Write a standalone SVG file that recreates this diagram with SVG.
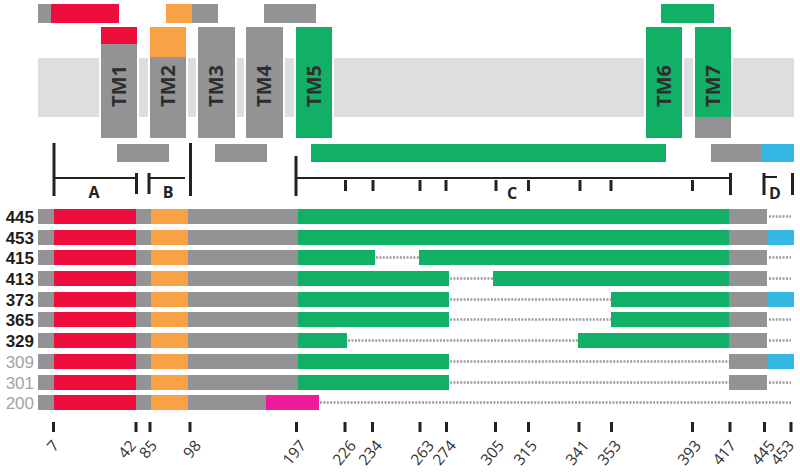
<svg xmlns="http://www.w3.org/2000/svg" width="800" height="473" viewBox="0 0 800 473">
<style>
.g{fill:#939396}.r{fill:#ef0d3d}.o{fill:#f9a245}.gr{fill:#12b067}.b{fill:#35b7e4}.m{fill:#ee1a9c}
.band{fill:#dddee0}
.tm{stroke:#fff;stroke-width:2}
.tml{font-family:"Open Sans","Liberation Sans",sans-serif;font-weight:bold;font-size:20px;fill:#2e2e2e;text-anchor:middle}
.dot{stroke:#9c9c9c;stroke-width:2.5;stroke-dasharray:2 1.4;fill:none}
.rl{font-family:"Liberation Sans",Arial,sans-serif;font-size:17px;text-anchor:end}
.dk{fill:#1e1e1e;font-weight:bold}.lt{fill:#a3a3a3}
.ln{stroke:#222;fill:none;stroke-width:2}
.tk{stroke:#222;fill:none;stroke-width:3}
.bl{font-family:"Open Sans","Liberation Sans",sans-serif;font-weight:bold;font-size:16px;fill:#222;text-anchor:middle}
.al{font-family:"Open Sans","Liberation Sans",sans-serif;font-size:15.5px;fill:#333;text-anchor:end}
</style>
<rect width="800" height="473" fill="#fff"/>
<g id="membrane"><rect class="band" x="38" y="58" width="756" height="59"/></g>
<g id="loops-top">
<rect class="g" x="38" y="4" width="14" height="19"/><rect class="r" x="51" y="4" width="68" height="19"/>
<rect class="o" x="166" y="4" width="26" height="19"/><rect class="g" x="192" y="4" width="26" height="19"/>
<rect class="g" x="264" y="4" width="52" height="19"/>
<rect class="gr" x="661" y="4" width="53" height="19"/>
</g>
<g id="loops-bottom">
<rect class="g" x="117" y="144" width="52" height="18"/>
<rect class="g" x="215" y="144" width="52" height="18"/>
<rect class="gr" x="311" y="144" width="355" height="18"/>
<rect class="g" x="711" y="144" width="52" height="18"/><rect class="b" x="762" y="144" width="32" height="18"/>
</g>
<g id="tm1"><rect class="g tm" x="100" y="26" width="38" height="113"/><rect class="r" x="101" y="27" width="36" height="17"/><text class="tml" transform="translate(126,86) rotate(-90)">TM1</text></g>
<g id="tm2"><rect class="g tm" x="149" y="26" width="38" height="113"/><rect class="o" x="150" y="27" width="36" height="30"/><text class="tml" transform="translate(175,86) rotate(-90)">TM2</text></g>
<g id="tm3"><rect class="g tm" x="197" y="26" width="39" height="113"/><text class="tml" transform="translate(223,86) rotate(-90)">TM3</text></g>
<g id="tm4"><rect class="g tm" x="245" y="26" width="39" height="113"/><text class="tml" transform="translate(271,86) rotate(-90)">TM4</text></g>
<g id="tm5"><rect class="gr tm" x="295" y="26" width="38" height="113"/><text class="tml" transform="translate(321,86) rotate(-90)">TM5</text></g>
<g id="tm6"><rect class="gr tm" x="645" y="26" width="38" height="113"/><text class="tml" transform="translate(671,86) rotate(-90)">TM6</text></g>
<g id="tm7"><rect class="gr tm" x="694" y="26" width="38" height="113"/><rect class="g" x="695" y="117" width="36" height="21"/><text class="tml" transform="translate(720,86) rotate(-90)">TM7</text></g>
<g id="brackets">
<line class="tk" x1="54" y1="143" x2="54" y2="196"/>
<line class="ln" x1="54" y1="178" x2="135" y2="178"/>
<line class="tk" x1="136.5" y1="173" x2="136.5" y2="194"/>
<line class="tk" x1="149" y1="173" x2="149" y2="194"/>
<line class="ln" x1="150" y1="178" x2="185" y2="178"/>
<line class="tk" x1="190.5" y1="143" x2="190.5" y2="196"/>
<text class="bl" x="94" y="198">A</text>
<text class="bl" x="168" y="198">B</text>
<line class="tk" x1="296" y1="156" x2="296" y2="196"/>
<line class="ln" x1="296" y1="178" x2="730" y2="178"/>
<line class="tk" x1="730.5" y1="173" x2="730.5" y2="195"/>
<g class="tk">
<line x1="345.5" y1="180" x2="345.5" y2="191"/><line x1="373" y1="180" x2="373" y2="191"/>
<line x1="420" y1="180" x2="420" y2="191"/><line x1="446" y1="180" x2="446" y2="191"/>
<line x1="496" y1="180" x2="496" y2="191"/><line x1="528.5" y1="180" x2="528.5" y2="191"/>
<line x1="580" y1="180" x2="580" y2="191"/><line x1="611" y1="180" x2="611" y2="191"/>
<line x1="692.5" y1="180" x2="692.5" y2="191"/>
</g>
<text class="bl" x="512" y="199">C</text>
<line class="tk" x1="764" y1="173" x2="764" y2="195"/>
<line class="ln" x1="764" y1="177" x2="777" y2="177"/>
<line class="tk" x1="792.5" y1="173" x2="792.5" y2="195"/>
<text class="bl" x="775" y="199">D</text>
</g>
<g id="rows">
<g id="row445"><text class="rl dk" x="34" y="223">445</text>
<rect class="g" x="38" y="209" width="16" height="15"/><rect class="r" x="54" y="209" width="82" height="15"/><rect class="g" x="136" y="209" width="15" height="15"/><rect class="o" x="151" y="209" width="37" height="15"/><rect class="g" x="188" y="209" width="110" height="15"/><rect class="gr" x="298" y="209" width="431" height="15"/><rect class="g" x="729" y="209" width="38" height="15"/>
<line class="dot" x1="769" y1="216.5" x2="791" y2="216.5"/></g>
<g id="row453"><text class="rl dk" x="34" y="244">453</text>
<rect class="g" x="38" y="230" width="16" height="15"/><rect class="r" x="54" y="230" width="82" height="15"/><rect class="g" x="136" y="230" width="15" height="15"/><rect class="o" x="151" y="230" width="37" height="15"/><rect class="g" x="188" y="230" width="110" height="15"/><rect class="gr" x="298" y="230" width="431" height="15"/><rect class="g" x="729" y="230" width="38" height="15"/><rect class="b" x="767" y="230" width="27" height="15"/></g>
<g id="row415"><text class="rl dk" x="34" y="264">415</text>
<rect class="g" x="38" y="250" width="16" height="15"/><rect class="r" x="54" y="250" width="82" height="15"/><rect class="g" x="136" y="250" width="15" height="15"/><rect class="o" x="151" y="250" width="37" height="15"/><rect class="g" x="188" y="250" width="110" height="15"/><rect class="gr" x="298" y="250" width="77" height="15"/><line class="dot" x1="376" y1="257.5" x2="419" y2="257.5"/><rect class="gr" x="419" y="250" width="310" height="15"/><rect class="g" x="729" y="250" width="38" height="15"/>
<line class="dot" x1="769" y1="257.5" x2="791" y2="257.5"/></g>
<g id="row413"><text class="rl dk" x="34" y="285">413</text>
<rect class="g" x="38" y="271" width="16" height="15"/><rect class="r" x="54" y="271" width="82" height="15"/><rect class="g" x="136" y="271" width="15" height="15"/><rect class="o" x="151" y="271" width="37" height="15"/><rect class="g" x="188" y="271" width="110" height="15"/><rect class="gr" x="298" y="271" width="151" height="15"/><line class="dot" x1="450" y1="278.5" x2="493" y2="278.5"/><rect class="gr" x="493" y="271" width="236" height="15"/><rect class="g" x="729" y="271" width="38" height="15"/>
<line class="dot" x1="769" y1="278.5" x2="791" y2="278.5"/></g>
<g id="row373"><text class="rl dk" x="34" y="306">373</text>
<rect class="g" x="38" y="292" width="16" height="15"/><rect class="r" x="54" y="292" width="82" height="15"/><rect class="g" x="136" y="292" width="15" height="15"/><rect class="o" x="151" y="292" width="37" height="15"/><rect class="g" x="188" y="292" width="110" height="15"/><rect class="gr" x="298" y="292" width="151" height="15"/><line class="dot" x1="450" y1="299.5" x2="611" y2="299.5"/><rect class="gr" x="611" y="292" width="118" height="15"/><rect class="g" x="729" y="292" width="38" height="15"/><rect class="b" x="767" y="292" width="27" height="15"/></g>
<g id="row365"><text class="rl dk" x="34" y="326">365</text>
<rect class="g" x="38" y="312" width="16" height="15"/><rect class="r" x="54" y="312" width="82" height="15"/><rect class="g" x="136" y="312" width="15" height="15"/><rect class="o" x="151" y="312" width="37" height="15"/><rect class="g" x="188" y="312" width="110" height="15"/><rect class="gr" x="298" y="312" width="151" height="15"/><line class="dot" x1="450" y1="319.5" x2="611" y2="319.5"/><rect class="gr" x="611" y="312" width="118" height="15"/><rect class="g" x="729" y="312" width="38" height="15"/>
<line class="dot" x1="769" y1="319.5" x2="791" y2="319.5"/></g>
<g id="row329"><text class="rl dk" x="34" y="347">329</text>
<rect class="g" x="38" y="333" width="16" height="15"/><rect class="r" x="54" y="333" width="82" height="15"/><rect class="g" x="136" y="333" width="15" height="15"/><rect class="o" x="151" y="333" width="37" height="15"/><rect class="g" x="188" y="333" width="110" height="15"/><rect class="gr" x="298" y="333" width="49" height="15"/><line class="dot" x1="348" y1="340.5" x2="578" y2="340.5"/><rect class="gr" x="578" y="333" width="151" height="15"/><rect class="g" x="729" y="333" width="38" height="15"/>
<line class="dot" x1="769" y1="340.5" x2="791" y2="340.5"/></g>
<g id="row309"><text class="rl lt" x="34" y="368">309</text>
<rect class="g" x="38" y="354" width="16" height="15"/><rect class="r" x="54" y="354" width="82" height="15"/><rect class="g" x="136" y="354" width="15" height="15"/><rect class="o" x="151" y="354" width="37" height="15"/><rect class="g" x="188" y="354" width="110" height="15"/><rect class="gr" x="298" y="354" width="151" height="15"/><line class="dot" x1="450" y1="361.5" x2="729" y2="361.5"/><rect class="g" x="729" y="354" width="38" height="15"/><rect class="b" x="767" y="354" width="27" height="15"/></g>
<g id="row301"><text class="rl lt" x="34" y="389">301</text>
<rect class="g" x="38" y="375" width="16" height="15"/><rect class="r" x="54" y="375" width="82" height="15"/><rect class="g" x="136" y="375" width="15" height="15"/><rect class="o" x="151" y="375" width="37" height="15"/><rect class="g" x="188" y="375" width="110" height="15"/><rect class="gr" x="298" y="375" width="151" height="15"/><line class="dot" x1="450" y1="382.5" x2="729" y2="382.5"/><rect class="g" x="729" y="375" width="38" height="15"/>
<line class="dot" x1="769" y1="382.5" x2="791" y2="382.5"/></g>
<g id="row200"><text class="rl lt" x="34" y="409">200</text>
<rect class="g" x="38" y="395" width="16" height="15"/><rect class="r" x="54" y="395" width="82" height="15"/><rect class="g" x="136" y="395" width="15" height="15"/><rect class="o" x="151" y="395" width="37" height="15"/><rect class="g" x="188" y="395" width="78" height="15"/><rect class="m" x="266" y="395" width="53" height="15"/><line class="dot" x1="320" y1="402.5" x2="791" y2="402.5"/></g>
</g>
<g id="axis">
<g class="tk">
<line x1="53.5" y1="422" x2="53.5" y2="432"/><line x1="136" y1="422" x2="136" y2="432"/><line x1="150" y1="422" x2="150" y2="432"/><line x1="190" y1="422" x2="190" y2="432"/>
<line x1="296.5" y1="422" x2="296.5" y2="432"/><line x1="345" y1="422" x2="345" y2="432"/><line x1="372.5" y1="422" x2="372.5" y2="432"/><line x1="420" y1="422" x2="420" y2="432"/>
<line x1="446.5" y1="422" x2="446.5" y2="432"/><line x1="495.5" y1="422" x2="495.5" y2="432"/><line x1="528.5" y1="422" x2="528.5" y2="432"/><line x1="579" y1="422" x2="579" y2="432"/>
<line x1="611.5" y1="422" x2="611.5" y2="432"/><line x1="692.5" y1="422" x2="692.5" y2="432"/><line x1="730" y1="422" x2="730" y2="432"/><line x1="764.5" y1="422" x2="764.5" y2="432"/><line x1="791" y1="422" x2="791" y2="432"/>
</g>
<text class="al" transform="translate(60,446) rotate(-50)">7</text>
<text class="al" transform="translate(137,446) rotate(-50)">42</text>
<text class="al" transform="translate(158,446) rotate(-50)">85</text>
<text class="al" transform="translate(202,446) rotate(-50)">98</text>
<text class="al" transform="translate(307,446) rotate(-50)">197</text>
<text class="al" transform="translate(357,446) rotate(-50)">226</text>
<text class="al" transform="translate(383,446) rotate(-50)">234</text>
<text class="al" transform="translate(435,446) rotate(-50)">263</text>
<text class="al" transform="translate(457,446) rotate(-50)">274</text>
<text class="al" transform="translate(505,446) rotate(-50)">305</text>
<text class="al" transform="translate(538,446) rotate(-50)">315</text>
<text class="al" transform="translate(590,446) rotate(-50)">341</text>
<text class="al" transform="translate(622,446) rotate(-50)">353</text>
<text class="al" transform="translate(702,446) rotate(-50)">393</text>
<text class="al" transform="translate(737,446) rotate(-50)">417</text>
<text class="al" transform="translate(776,446) rotate(-50)">445</text>
<text class="al" transform="translate(795,446) rotate(-50)">453</text>
</g>
<g id="connectors"></g>
</svg>
